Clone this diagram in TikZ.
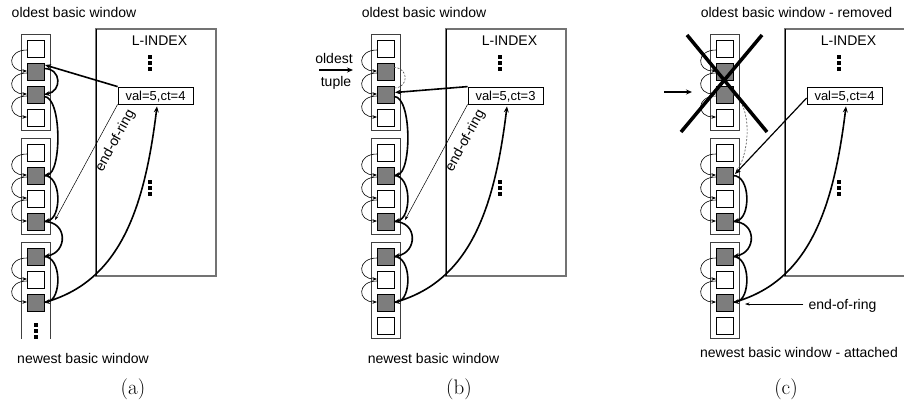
\documentclass[tikz,border=0pt]{standalone}
\usepackage{fontspec}
\newfontfamily\sansf{Liberation Sans}
\usetikzlibrary{arrows.meta,calc}
\definecolor{sqgray}{RGB}{125,125,125}
\tikzset{
  lab/.style={font=\sansf\fontsize{14}{16}\selectfont, inner sep=0pt},
  caplab/.style={font=\fontsize{21}{24}\selectfont, inner sep=0pt, anchor=base},
  sqw/.style={draw=black, line width=0.8pt, fill=white, minimum size=17pt, inner sep=0pt, outer sep=0pt},
  sqg/.style={sqw, fill=sqgray},
  winbox/.style={draw=black!75, line width=0.8pt},
  lbox/.style={draw=black!55, line width=1.3pt},
  valbox/.style={draw=black, line width=0.8pt, fill=white, minimum width=75pt, minimum height=17pt, inner sep=0pt, text height=10pt, text depth=0pt, font=\sansf\fontsize{13}{15}\selectfont},
  smallarrow/.style={line width=0.6pt, -{Stealth[length=4.5pt,width=3.5pt]}},
  chainarrow/.style={line width=1.6pt, -{Stealth[length=6pt,width=5pt]}},
  thinarrow/.style={line width=0.5pt, -{Stealth[length=4.5pt,width=3pt]}},
  dashlink/.style={line width=0.6pt, draw=black!70, dash pattern=on 2pt off 1.5pt},
}
% #1 prefix, #2 xshift, #3 val text, #4 closed last window (1) or open (0)
\newcommand\wincol[4]{%
 \begin{scope}[xshift=#2pt]
  % L-INDEX box
  \draw[lbox] (96,-29) rectangle (216,-276);
  \draw[black, line width=0.7pt] (96,-29) -- (96,-276);
  \node[lab, anchor=base] (#1lidx) at (159.5,-45) {L-INDEX};
  \fill (148,-55) rectangle (152,-58.5);
  \fill (148,-61) rectangle (152,-64.5);
  \fill (148,-67) rectangle (152,-70.5);
  \fill (148,-180) rectangle (152,-183.5);
  \fill (148,-186) rectangle (152,-189.5);
  \fill (148,-192) rectangle (152,-195.5);
  \node[valbox] (#1val) at (155.5,-95.5) {#3};
  % window boxes
  \draw[winbox] (21,-34) rectangle (50,-130);
  \draw[winbox] (21,-138) rectangle (50,-234);
  \ifnum#4=1
    \draw[winbox] (21,-242) rectangle (50,-338);
  \else
    \draw[winbox] (21,-339) |- (50,-242) -- (50,-339);
    \fill (34.2,-323) rectangle (37.8,-326.5);
    \fill (34.2,-329) rectangle (37.8,-332.5);
    \fill (34.2,-335) rectangle (37.8,-338.5);
  \fi
  % squares
  \node[sqw] (#11s1) at (35.5,-48.5) {};
  \node[sqg] (#11s2) at (35.5,-71.5) {};
  \node[sqg] (#11s3) at (35.5,-94.5) {};
  \node[sqw] (#11s4) at (35.5,-117.5) {};
  \node[sqw] (#12s1) at (35.5,-152.5) {};
  \node[sqg] (#12s2) at (35.5,-175.5) {};
  \node[sqw] (#12s3) at (35.5,-198.5) {};
  \node[sqg] (#12s4) at (35.5,-221.5) {};
  \node[sqg] (#13s1) at (35.5,-256.5) {};
  \node[sqw] (#13s2) at (35.5,-279.5) {};
  \node[sqg] (#13s3) at (35.5,-302.5) {};
  \ifnum#4=1 \node[sqw] (#13s4) at (35.5,-325.5) {}; \fi
 \end{scope}
  % left neighbour links
  \foreach \p/\q in {1s1/1s2,1s2/1s3,1s3/1s4,2s1/2s2,2s2/2s3,2s3/2s4,3s1/3s2,3s2/3s3}
    \draw[smallarrow] ($(#1\p.west)+(0,-1.5)$) to[out=180,in=180,distance=20pt] ($(#1\q.west)+(0,0.5)$);
  % common ring links
  \draw[chainarrow] (#12s2.east) to[out=0,in=10,distance=18pt] (#12s4.east);
  \draw[chainarrow] (#12s4.east) to[out=0,in=10,distance=24pt] (#13s1.east);
  \draw[chainarrow] (#13s1.east) to[out=0,in=10,distance=18pt] (#13s3.east);
  \draw[chainarrow] (#13s3.east) .. controls +(15:80pt) and +(-97:100pt) .. ($(#1val.south)+(1.5,-2)$);
}
\begin{document}
\begin{tikzpicture}[x=1pt,y=1pt]
\useasboundingbox (0,0) rectangle (904,-405);

% ---------------- panel (a)
\wincol{a}{0}{val=5,ct=4}{0}
\draw[chainarrow] ($(a1s2.east)+(0,3)$) to[out=0,in=10,distance=18pt] (a1s3.east);
\draw[chainarrow] ($(a1s3.east)+(0,-2)$) to[out=0,in=10,distance=18pt] (a2s2.east);
\draw[chainarrow] (aval.north west) -- ($(a1s2.north east)+(1,-2)$);
\draw[thinarrow] (aval.south west) -- ($(a2s4.east)+(11,1.5)$);
\node[lab, rotate=61.5] (aeor) at (115.5,-141) {end-of-ring};
\node[lab, anchor=base] (atop) at (74,-17) {oldest basic window};
\node[lab, anchor=base] (abot) at (83,-363) {newest basic window};
\node[caplab] (acap) at (133,-394) {(a)};

% ---------------- panel (b)
\wincol{b}{350}{val=5,ct=3}{1}
\draw[dashlink] ($(b1s2.east)+(0,4)$) to[out=0,in=0,distance=15pt] ($(b1s3.north east)+(0,-2)$);
\draw[chainarrow] ($(b1s3.east)+(0,-2)$) to[out=0,in=10,distance=18pt] (b2s2.east);
\draw[chainarrow] (bval.north west) -- ($(b1s3.east)+(1,2)$);
\draw[thinarrow] (bval.south west) -- ($(b2s4.east)+(11,1.5)$);
\node[lab, rotate=61.5] (beor) at (465.5,-141) {end-of-ring};
\node[lab, anchor=base] (btop) at (424,-17) {oldest basic window};
\node[lab, anchor=base] (bbot) at (433.5,-363) {newest basic window};
\node[lab, anchor=base] (bold) at (334,-63) {oldest};
\node[lab, anchor=base] (btup) at (336,-86) {tuple};
\coordinate (bo1) at (319,-70);
\coordinate (bo2) at (353,-70);
\draw[chainarrow] (bo1) -- (bo2);
\node[caplab] (bcap) at (459,-394) {(b)};

% ---------------- panel (c)
\wincol{c}{689}{val=5,ct=4}{1}
\draw[dashlink] (c1s3.east) .. controls (752,-105) and (750,-150) .. ($(c2s2.north east)+(5,-2)$);
\draw[line width=1.2pt, -{Stealth[length=6pt,width=5pt]}] ($(cval.west)+(0,-2.5)$) -- ($(c2s2.east)+(2,1.5)$);
\draw[line width=3.5pt] (681,-132) -- (762,-35);
\draw[line width=3.5pt] (687,-35) -- (767,-132);
\coordinate (co1) at (664,-92);
\coordinate (co2) at (692,-92);
\draw[chainarrow] (co1) -- (co2);
\node[lab, anchor=base] (ceor) at (842.5,-309) {end-of-ring};
\coordinate (ceortip) at ($(c3s3.east)+(12,-1.5)$);
\coordinate (ceorstart) at ($(ceor.west |- ceortip)+(-5,0)$);
\draw[thinarrow] (ceorstart) -- (ceortip);
\node[lab, anchor=base] (ctop) at (796.5,-17) {oldest basic window - removed};
\node[lab, anchor=base] (cbot) at (799,-357) {newest basic window - attached};
\node[caplab] (ccap) at (786,-394) {(c)};
\end{tikzpicture}
\end{document}
